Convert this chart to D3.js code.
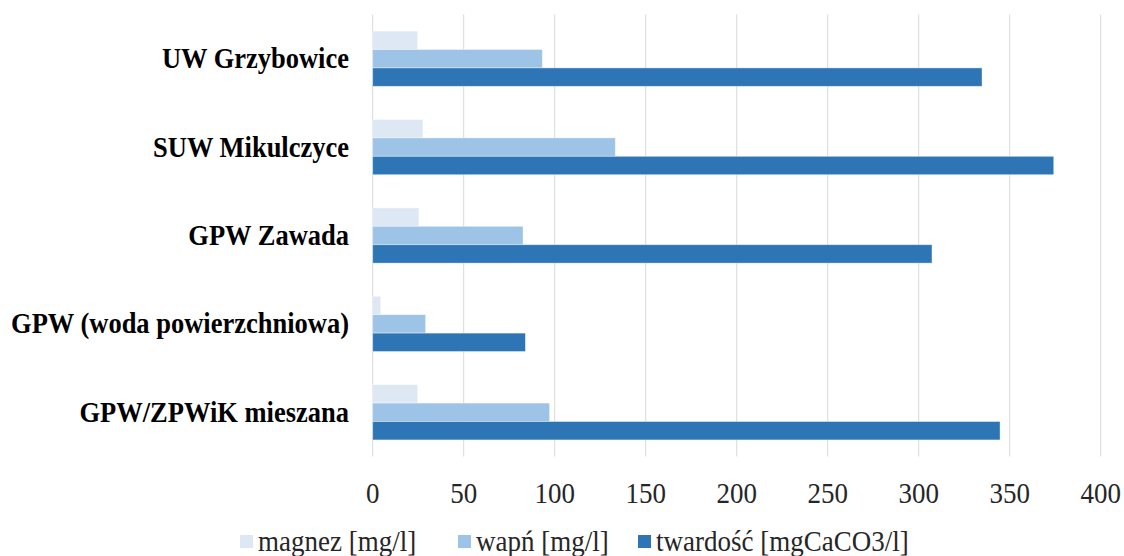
<!DOCTYPE html>
<html>
<head>
<meta charset="utf-8">
<script src="https://cdn.jsdelivr.net/npm/d3@7"></script>
<style>
  body { margin: 0; background: #fff; }
  svg { display: block; }
  text { font-family: "Liberation Serif", "Times New Roman", serif; }
</style>
</head>
<body>
<div id="chart"></div>
<script>
var categories = ["UW Grzybowice", "SUW Mikulczyce", "GPW Zawada", "GPW (woda powierzchniowa)", "GPW/ZPWiK mieszana"];
var seriesNames = ["magnez [mg/l]", "wapń [mg/l]", "twardość [mgCaCO3/l]"];
var magnez = [24.7, 27.6, 25.4, 4.4, 24.7];
var wapn = [93.2, 133.3, 82.6, 29.1, 97.2];
var twardosc = [334.8, 374.2, 307.3, 83.9, 344.7];
var xTicks = [0, 50, 100, 150, 200, 250, 300, 350, 400];
var colors = ["#dde8f4", "#9dc3e6", "#2e75b6"];

var width = 1124, height = 556;
var margin = {top: 14.5, left: 372.7, right: 23.3, bottom: 99.5};
// the source picture is stretched vertically, so text is drawn taller than wide
var stretch = 1.11;

var svg = d3.select("#chart").append("svg")
    .attr("width", width)
    .attr("height", height);

var x = d3.scaleLinear()
    .domain([0, 400])
    .range([margin.left, width - margin.right]);

var y = d3.scaleBand()
    .domain(categories)
    .range([margin.top, height - margin.bottom])
    .paddingInner(0.375)
    .paddingOuter(0.1875);

var ySub = d3.scaleBand()
    .domain(d3.range(3))
    .range([0, y.bandwidth()]);

// gridlines
svg.append("g")
    .selectAll("line")
    .data(xTicks)
    .enter().append("line")
    .attr("x1", function(d) { return x(d); })
    .attr("x2", function(d) { return x(d); })
    .attr("y1", margin.top)
    .attr("y2", height - margin.bottom)
    .attr("stroke", "#d9d9d9")
    .attr("stroke-width", 1);

var series = [magnez, wapn, twardosc];
var rows = [];
categories.forEach(function(c, i) {
    series.forEach(function(s, k) {
        rows.push({cat: c, k: k, value: s[i]});
    });
});

svg.append("g")
    .selectAll("rect")
    .data(rows)
    .enter().append("rect")
    .attr("x", x(0))
    .attr("y", function(d) { return y(d.cat) + ySub(d.k); })
    .attr("width", function(d) { return x(d.value) - x(0); })
    .attr("height", ySub.bandwidth())
    .attr("fill", function(d) { return colors[d.k]; })
    .attr("stroke", "#ffffff")
    .attr("stroke-opacity", 0.5)
    .attr("stroke-width", 0.8);

function stretchText(sel, tx, ty) {
    sel.attr("x", 0).attr("y", 0).attr("dy", "0.32em")
        .attr("transform", function(d) {
            return "translate(" + tx(d) + "," + ty(d) + ") scale(1," + stretch + ")";
        });
}

// x axis labels
var xAxis = d3.axisBottom(x).tickValues(xTicks).tickSize(0).tickPadding(0);
var gx = svg.append("g").call(xAxis);
gx.select(".domain").remove();
gx.selectAll(".tick").attr("transform", null);
gx.selectAll("text")
    .style("font-size", "27px")
    .attr("fill", "#262626")
    .call(stretchText, function(d) { return x(d); }, function() { return 493; });

// category labels
var yAxis = d3.axisLeft(y).tickSize(0).tickPadding(0);
var gy = svg.append("g").call(yAxis);
gy.select(".domain").remove();
gy.selectAll(".tick").attr("transform", null);
gy.selectAll("text")
    .style("font-size", "26.5px")
    .style("font-weight", "bold")
    .attr("text-anchor", "end")
    .attr("fill", "#000")
    .call(stretchText, function() { return 349; }, function(d) { return y(d) + y.bandwidth() / 2; });

// legend
var legendX = [240, 458, 638];
var legend = svg.append("g")
    .selectAll("g")
    .data(seriesNames)
    .enter().append("g")
    .attr("transform", function(d, i) { return "translate(" + legendX[i] + ",0)"; });
legend.append("rect")
    .attr("y", 535)
    .attr("width", 13)
    .attr("height", 13)
    .attr("fill", function(d, i) { return colors[i]; });
legend.append("text")
    .style("font-size", "27px")
    .attr("fill", "#262626")
    .text(function(d) { return d; })
    .call(stretchText, function() { return 18; }, function() { return 541; });
</script>
</body>
</html>
